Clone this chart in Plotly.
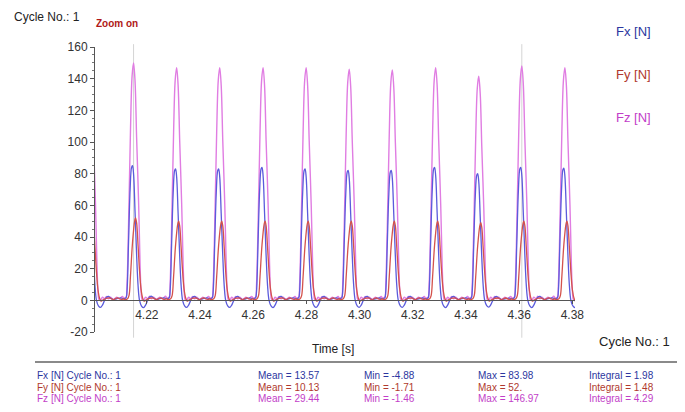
import plotly.graph_objects as go

# ---------------- data ----------------
x_ticks = [4.22, 4.24, 4.26, 4.28, 4.30, 4.32, 4.34, 4.36, 4.38]
x_tick_labels = ["4.22", "4.24", "4.26", "4.28", "4.30", "4.32", "4.34", "4.36", "4.38"]
y_ticks = [-20, 0, 20, 40, 60, 80, 100, 120, 140, 160]
y_tick_labels = ["-20", "0", "20", "40", "60", "80", "100", "120", "140", "160"]

# time of each Fz peak [s] (first one is just before the visible window)
peak_times = [4.1988, 4.2150, 4.2312, 4.2474, 4.2637, 4.2799, 4.2961,
              4.3123, 4.3286, 4.3448, 4.3610, 4.3772]
fx_peaks = [83, 85, 83, 83, 84, 83, 82, 82, 84, 80, 84, 83.5]
fy_peaks = [50, 52, 50, 50, 50, 50, 50, 50, 50, 49, 50, 50]
fz_peaks = [146, 150, 147, 147, 147, 147, 146, 145.5, 147, 141.5, 148, 147]

# one cycle shape, offsets in ms from the Fz peak, values at the reference amplitude
fz_ref = 146
fz_shape_ms = [-3.4, -2.8, -2.45, -1.9, -1.15, -0.55, 0.0, 0.55, 1.15, 1.9, 2.45, 2.85,
               3.2, 3.8, 4.5, 5.3, 6.0, 6.8, 7.5, 8.6, 9.8, 10.9, 12.0, 12.5]
fz_shape_val = [1.5, 2.0, 10, 45, 105, 138, 146, 135, 100, 60, 22, 5,
                0.5, 0, 2, 1, 2.5, 1, 2, 0.5, 2, 1, 2.5, 1.5]

fx_ref = 83
fx_shape_ms = [-3.4, -2.8, -2.45, -1.9, -1.3, -0.75, -0.4, 0.0, 0.55, 1.15, 1.7, 2.25,
               3.0, 3.75, 4.5, 5.3, 6.0, 6.8, 7.5, 8.6, 9.8, 11.3, 12.5]
fx_shape_val = [1, 1.5, 6, 35, 68, 82, 83, 78, 55, 28, 9, 0,
                -3.5, -4.5, -3, 0, 2, 2.5, 1.5, 0.5, 1, 1.5, 1]

fy_ref = 50
fy_shape_ms = [-3.4, -2.25, -1.7, -1.15, -0.4, 0.4, 0.75, 1.15, 1.7, 2.25, 2.8, 3.4,
               3.95, 4.5, 5.6, 7.1, 8.6, 10.1, 11.6, 12.5]
fy_shape_val = [0.5, 1, 3, 15, 35, 48, 50, 47, 33, 18, 7, 1.5,
                -0.5, 0, 1, 1.5, 0.5, 1.5, 0.5, 1]

cursor_times = [4.2150, 4.3610]

series_names = ["Fx [N]", "Fy [N]", "Fz [N]"]
line_colors = ["#5b5bdc", "#d4524c", "#e07de2"]
text_colors = ["#2b36a0", "#b0392e", "#c23ec8"]
stat_mean = ["13.57", "10.13", "29.44"]
stat_min = ["-4.88", "-1.71", "-1.46"]
stat_max = ["83.98", "52.", "146.97"]
stat_integral = ["1.98", "1.48", "4.29"]


def build(peaks, amps, ref, sh_ms, sh_val):
    t, v = [], []
    for p, a in zip(peaks, amps):
        for o, s in zip(sh_ms, sh_val):
            t.append(p + o / 1000.0)
            v.append(s * a / ref)
    return t, v


fx_t, fx_v = build(peak_times, fx_peaks, fx_ref, fx_shape_ms, fx_shape_val)
fy_t, fy_v = build(peak_times, fy_peaks, fy_ref, fy_shape_ms, fy_shape_val)
fz_t, fz_v = build(peak_times, fz_peaks, fz_ref, fz_shape_ms, fz_shape_val)

FONT = "Liberation Sans, Arial, sans-serif"

fig = go.Figure()
fig.add_trace(go.Scatter(x=fz_t, y=fz_v, mode="lines", name=series_names[2],
                         line=dict(color=line_colors[2], width=1.4), line_shape="spline"))
fig.add_trace(go.Scatter(x=fx_t, y=fx_v, mode="lines", name=series_names[0],
                         line=dict(color=line_colors[0], width=1.3), line_shape="spline"))
fig.add_trace(go.Scatter(x=fy_t, y=fy_v, mode="lines", name=series_names[1],
                         line=dict(color=line_colors[1], width=1.3), line_shape="spline"))

shapes = []
for ct in cursor_times:
    shapes.append(dict(type="line", xref="x", yref="paper", x0=ct, x1=ct, y0=-0.02, y1=1.01,
                       line=dict(color="#d4d4d4", width=1), layer="below"))
shapes.append(dict(type="line", xref="paper", yref="paper", x0=-0.125, x1=1.23,
                   y0=-0.1053, y1=-0.1053, line=dict(color="#8a8a8a", width=2)))

ann = []
ann.append(dict(text="Cycle No.: 1", x=-0.173, y=1.106, xref="paper", yref="paper",
                xanchor="left", yanchor="middle", showarrow=False,
                font=dict(family=FONT, size=12, color="#222")))
ann.append(dict(text="<b>Zoom on</b>", x=-0.002, y=1.081, xref="paper", yref="paper",
                xanchor="left", yanchor="middle", showarrow=False,
                font=dict(family=FONT, size=10, color="#b01818")))
legend_y = [1.056, 0.905, 0.754]
for name, col, ly in zip(series_names, text_colors, legend_y):
    ann.append(dict(text=name, x=1.082, y=ly, xref="paper", yref="paper",
                    xanchor="left", yanchor="middle", showarrow=False,
                    font=dict(family=FONT, size=13, color=col)))
ann.append(dict(text="Time [s]", x=0.496, y=-0.06, xref="paper", yref="paper",
                xanchor="center", yanchor="middle", showarrow=False,
                font=dict(family=FONT, size=12, color="#222")))
ann.append(dict(text="Cycle No.: 1", x=1.046, y=-0.035, xref="paper", yref="paper",
                xanchor="left", yanchor="middle", showarrow=False,
                font=dict(family=FONT, size=13, color="#222")))

row_y = [-0.151, -0.193, -0.235]
col_x = [-0.124, 0.336, 0.557, 0.794, 1.024]
for i in range(3):
    texts = [series_names[i] + " Cycle No.: 1",
             "Mean = " + stat_mean[i],
             "Min = " + stat_min[i],
             "Max = " + stat_max[i],
             "Integral = " + stat_integral[i]]
    for cx, tx in zip(col_x, texts):
        ann.append(dict(text=tx, x=cx, y=row_y[i], xref="paper", yref="paper",
                        xanchor="left", yanchor="middle", showarrow=False,
                        font=dict(family=FONT, size=10, color=text_colors[i])))

fig.update_layout(
    width=677, height=404, autosize=False,
    margin=dict(l=87, r=110, t=39, b=80),
    paper_bgcolor="white", plot_bgcolor="white",
    showlegend=False,
    shapes=shapes, annotations=ann,
    xaxis=dict(range=[4.2005, 4.381], anchor="free", position=20 / 180,
               tickvals=x_ticks, ticktext=x_tick_labels,
               showline=True, linecolor="#555", linewidth=1,
               ticks="outside", ticklen=3, tickcolor="#555",
               showgrid=False, zeroline=False,
               tickfont=dict(family=FONT, size=12, color="#333")),
    yaxis=dict(range=[-20, 160], tickvals=y_ticks, ticktext=y_tick_labels,
               showline=True, linecolor="#555", linewidth=1,
               ticks="outside", ticklen=4, tickcolor="#555",
               minor=dict(ticks="outside", ticklen=2, dtick=5, tick0=0, tickcolor="#777"),
               showgrid=False, zeroline=False,
               tickfont=dict(family=FONT, size=12, color="#333")),
)

fig.write_html("out.html")
